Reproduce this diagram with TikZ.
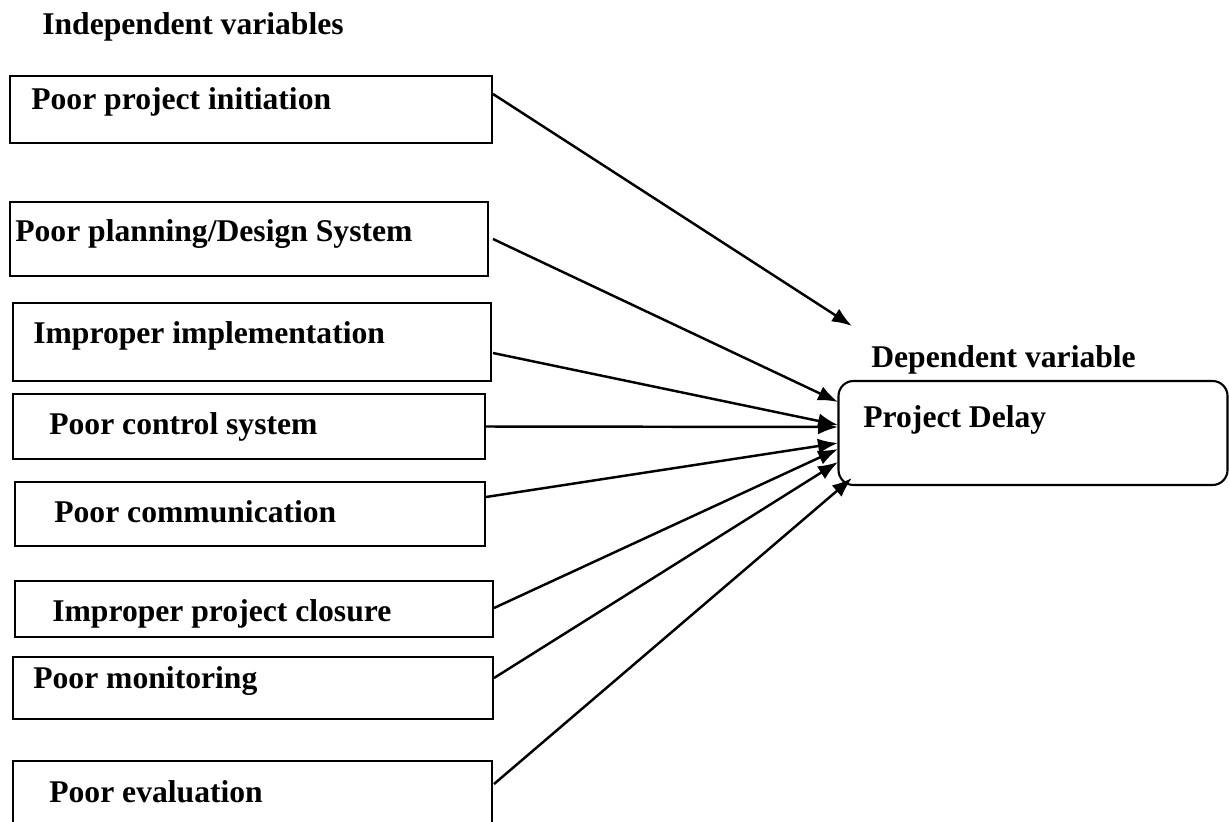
\documentclass[tikz,border=0pt]{standalone}
\usepackage{fontspec}
\setmainfont{Liberation Serif}
\usetikzlibrary{arrows.meta}

% one drawing unit = one pixel of a 1229 x 821 canvas, y running downwards
\tikzset{
  x=0.02cm, y=-0.02cm,
  vbox/.style={draw, line width=1.2pt, inner sep=0pt, outer sep=0pt, anchor=north west},
  lbl/.style={inner sep=0pt, anchor=base west, font=\fontsize{18}{21}\selectfont\bfseries},
  link/.style={line width=1.4pt, -{Latex[length=0.4cm, width=0.3cm]}},
}

% \varbox{name}{x1}{y1}{x2}{y2}{text x}{text baseline}{text}
\newcommand\varbox[8]{%
  \node[vbox, minimum width={(#4-#2)*0.02cm}, minimum height={(#5-#3)*0.02cm}] (#1) at (#2,#3) {};
  \node[lbl] (#1-t) at (#6,#7) {#8};
}

\begin{document}
\begin{tikzpicture}
\useasboundingbox (0,0) rectangle (1229,821);
\clip (0,0) rectangle (1229,821);

% headings
\node[lbl] (indep) at (42,35) {Independent variables};
\node[lbl] (dep) at (871,367) {Dependent variable};

% independent variables
\varbox{b1}{10}{76}{492}{143}{31}{110}{Poor project initiation}
\varbox{b2}{10}{202}{488}{276}{15}{241}{Poor planning/Design System}
\varbox{b3}{13}{303}{491}{381}{33}{343}{Improper implementation}
\varbox{b4}{13}{394}{485}{459}{49}{434}{Poor control system}
\varbox{b5}{15}{482}{485}{546}{54}{522}{Poor communication}
\varbox{b6}{15}{581}{493}{637}{52}{621}{Improper project closure}
\varbox{b7}{13}{657}{493}{719}{33}{688}{Poor monitoring}
\varbox{b8}{13}{761}{492}{824}{49}{802}{Poor evaluation}

% dependent variable
\node[draw, line width=1.2pt, rounded corners=0.3cm, inner sep=0pt, outer sep=0pt,
      anchor=north west, minimum width={389*0.02cm}, minimum height={104*0.02cm}]
      (pd) at (838.5,381) {};
\node[lbl] (pd-t) at (863,427) {Project Delay};

% connector ends
\coordinate (s1) at (493,94);
\coordinate (s2) at (493,239);
\coordinate (s3) at (493,353);
\coordinate (s5) at (486,497);
\coordinate (s6) at (494,608);
\coordinate (s7) at (494,678);
\coordinate (s8) at (494,784);

\coordinate (t1) at (852,326);
\coordinate (t2) at (838,402);
\coordinate (t3) at (838,425);
\coordinate (t4) at (838,427);
\coordinate (t5) at (838,443);
\coordinate (t6) at (838,449);
\coordinate (t7) at (838,462);
\coordinate (t8) at (852,478);

% influences
\draw[link] (s1) -- (t1);
\draw[link] (s2) -- (t2);
\draw[link] (s3) -- (t3);
\draw[link] (b4.east) -- (t4);
\draw[link] (s5) -- (t5);
\draw[link] (s6) -- (t6);
\draw[link] (s7) -- (t7);
\draw[link] (s8) -- (t8);
\end{tikzpicture}
\end{document}
